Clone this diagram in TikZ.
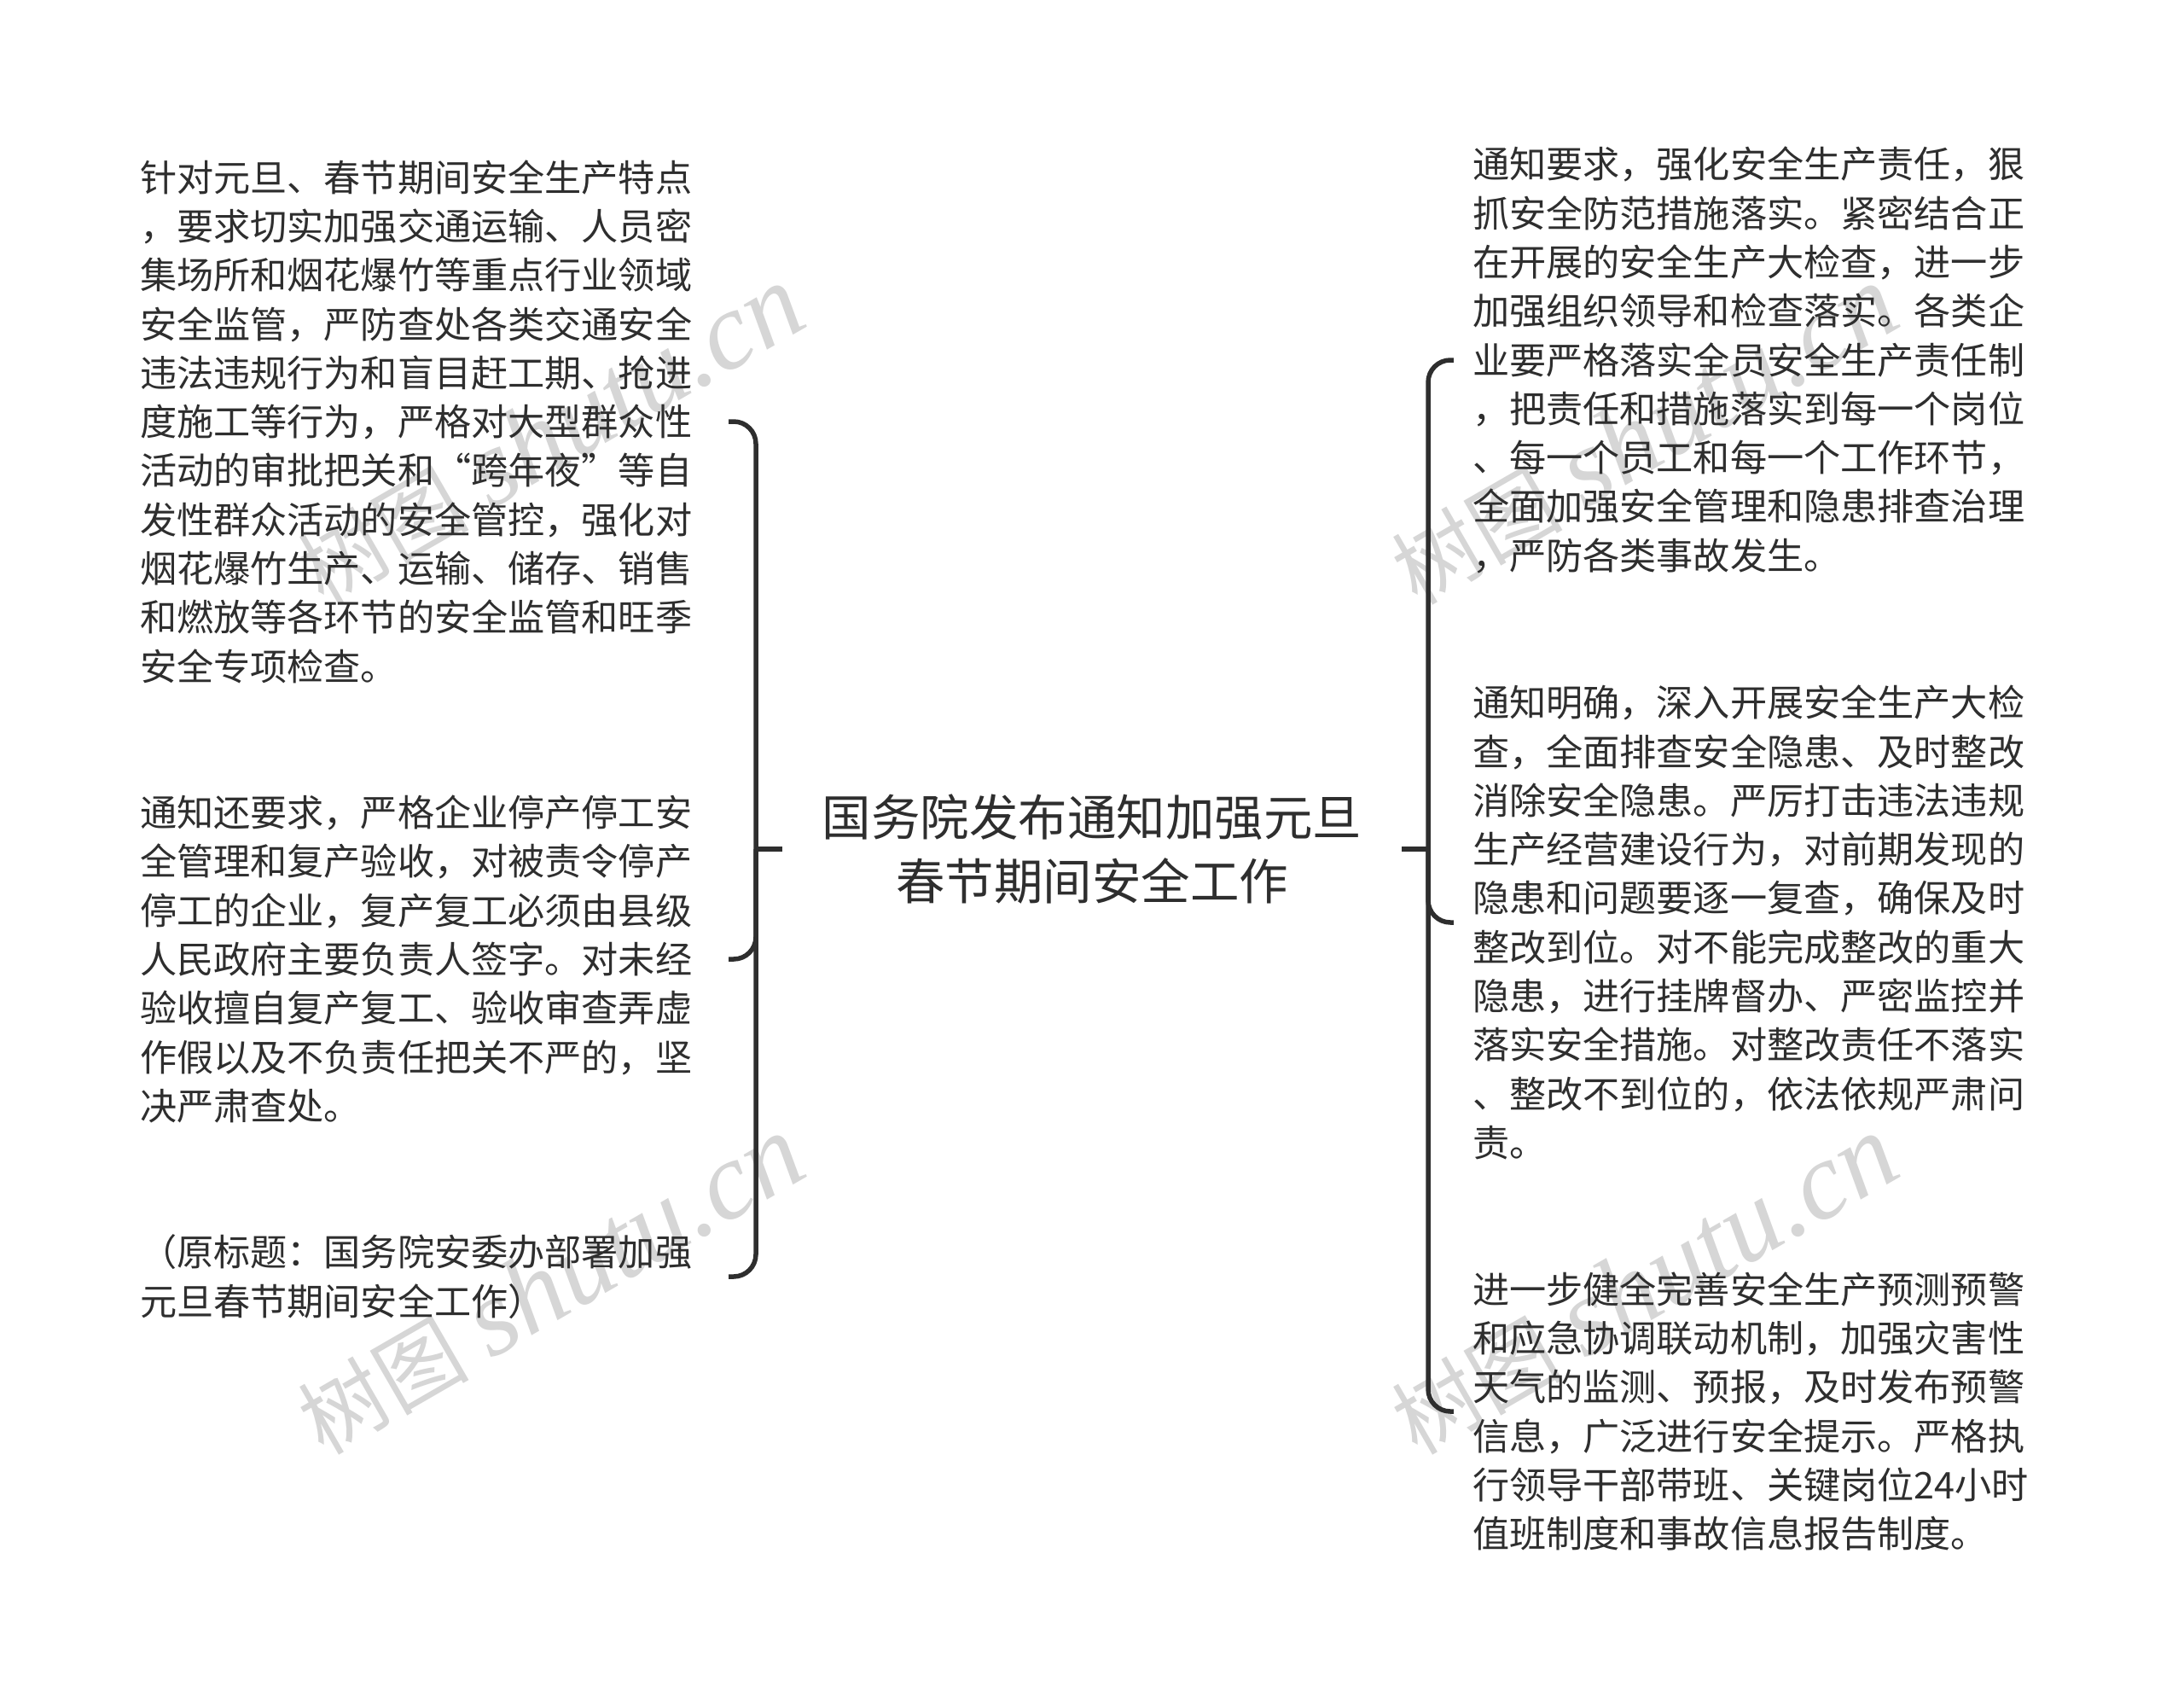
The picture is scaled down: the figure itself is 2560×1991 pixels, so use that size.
\documentclass[tikz,border=0pt]{standalone}
\usepackage{fontspec}
\setmainfont{Noto Sans CJK SC}
\newfontfamily\wmlatin{Liberation Serif}
\newfontfamily\wmcjk{Noto Sans CJK SC}
\newcommand{\wmtext}{{\fontsize{100}{100}\selectfont\wmcjk 树图} {\fontsize{129}{129}\selectfont\wmlatin\itshape shutu.cn}}
\definecolor{ink}{HTML}{2E2E2E}
\definecolor{wm}{HTML}{D6D6D6}
\tikzset{
  para/.style={inner sep=0pt,text width=650pt,align=left,text=ink,font=\fontsize{43.15}{57.3}\selectfont},
  rootnode/.style={inner ysep=0pt,inner xsep=0pt,minimum width=726pt,align=center,text=ink,font=\fontsize{57.5}{75}\selectfont},
  conn/.style={draw=ink,line width=5.5pt},
  bracket/.style={conn,rounded corners=26pt},
  watermark/.style={text=wm,rotate=30,inner sep=0pt,font=\fontsize{118}{118}\selectfont}
}
\begin{document}
\begin{tikzpicture}[x=1pt,y=-1pt]
\useasboundingbox (0,0) rectangle (2560,1991);
\fill[white] (0,0) rectangle (2560,1991);
\node[watermark] (w1) at (645,510) {\wmtext};
\node[watermark] (w2) at (1927,510) {\wmtext};
\node[watermark] (w3) at (645,1506) {\wmtext};
\node[watermark] (w4) at (1927,1506) {\wmtext};

\node[rootnode] (root) at (1280,995) {国务院发布通知加强元旦\\春节期间安全工作};

\node[para] (l1) at (489,494) {针对元旦、春节期间安全生产特点\\，要求切实加强交通运输、人员密\\集场所和烟花爆竹等重点行业领域\\安全监管，严防查处各类交通安全\\违法违规行为和盲目赶工期、抢进\\度施工等行为，严格对大型群众性\\活动的审批把关和“跨年夜”等自\\发性群众活动的安全管控，强化对\\烟花爆竹生产、运输、储存、销售\\和燃放等各环节的安全监管和旺季\\安全专项检查。};
\node[para] (l2) at (489,1124) {通知还要求，严格企业停产停工安\\全管理和复产验收，对被责令停产\\停工的企业，复产复工必须由县级\\人民政府主要负责人签字。对未经\\验收擅自复产复工、验收审查弄虚\\作假以及不负责任把关不严的，坚\\决严肃查处。};
\node[para] (l3) at (489,1496) {（原标题：国务院安委办部署加强\\元旦春节期间安全工作）};

\node[para] (r1) at (2051,422) {通知要求，强化安全生产责任，狠\\抓安全防范措施落实。紧密结合正\\在开展的安全生产大检查，进一步\\加强组织领导和检查落实。各类企\\业要严格落实全员安全生产责任制\\，把责任和措施落实到每一个岗位\\、每一个员工和每一个工作环节，\\全面加强安全管理和隐患排查治理\\，严防各类事故发生。};
\node[para] (r2) at (2051,1081) {通知明确，深入开展安全生产大检\\查，全面排查安全隐患、及时整改\\消除安全隐患。严厉打击违法违规\\生产经营建设行为，对前期发现的\\隐患和问题要逐一复查，确保及时\\整改到位。对不能完成整改的重大\\隐患，进行挂牌督办、严密监控并\\落实安全措施。对整改责任不落实\\、整改不到位的，依法依规严肃问\\责。};
\node[para] (r3) at (2051,1654) {进一步健全完善安全生产预测预警\\和应急协调联动机制，加强灾害性\\天气的监测、预报，及时发布预警\\信息，广泛进行安全提示。严格执\\行领导干部带班、关键岗位24小时\\值班制度和事故信息报告制度。};

\coordinate (tL) at (886,0);
\coordinate (tR) at (1674,0);
\draw[conn] (root.west) -- (root.west -| tL);
\draw[conn] (root.east) -- (root.east -| tR);
\draw[bracket] (root.west -| tL) -- (tL |- l1.east) -- ([xshift=40pt]l1.east);
\draw[bracket] (root.west -| tL) -- (tL |- l2.east) -- ([xshift=40pt]l2.east);
\draw[bracket] (root.west -| tL) -- (tL |- l3.east) -- ([xshift=40pt]l3.east);
\draw[bracket] (root.east -| tR) -- (tR |- r1.west) -- ([xshift=-22pt]r1.west);
\draw[bracket] (root.east -| tR) -- (tR |- r2.west) -- ([xshift=-22pt]r2.west);
\draw[bracket] (root.east -| tR) -- (tR |- r3.west) -- ([xshift=-22pt]r3.west);
\end{tikzpicture}
\end{document}
